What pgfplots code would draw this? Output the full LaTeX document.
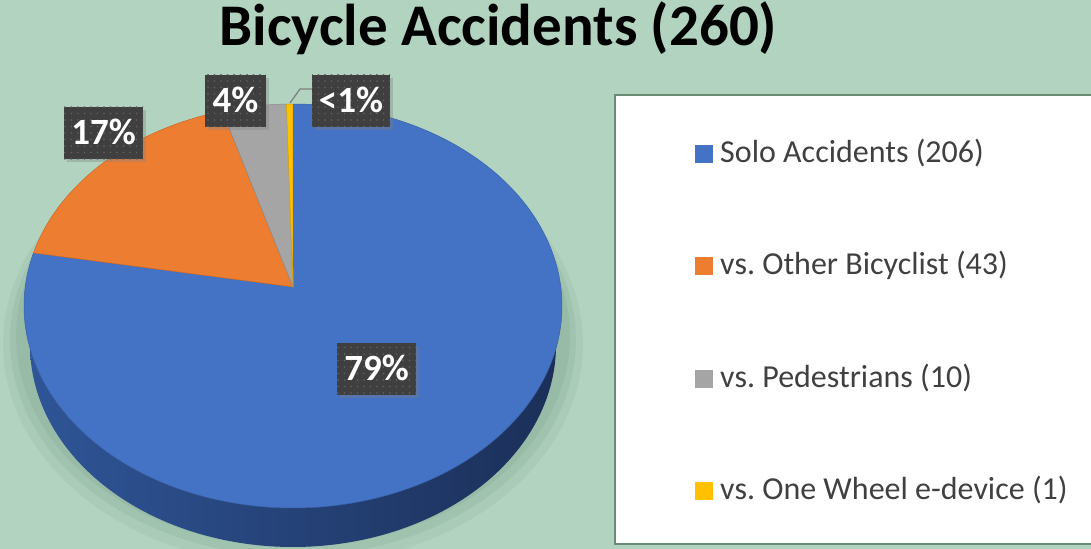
\documentclass[border=0pt]{standalone}
\usepackage{pgfplots}
\pgfplotsset{compat=1.18}
\usepackage{pgfplotstable}
\usepackage{fontspec}
\setmainfont{Carlito}
\frenchspacing
\usetikzlibrary{shadows,patterns.meta}

\definecolor{bg}{HTML}{B1D3C0}
\definecolor{shadowc}{HTML}{4F7560}
\definecolor{cblue}{HTML}{4472C4}
\definecolor{corange}{HTML}{ED7D31}
\definecolor{cgray}{HTML}{A5A5A5}
\definecolor{cyellow}{HTML}{FFC000}
\definecolor{sideL}{HTML}{2F5597}
\definecolor{sideM}{HTML}{213C72}
\definecolor{sideR}{HTML}{1B2F58}
\definecolor{labelbg}{HTML}{3F3F3F}
\definecolor{dotc}{HTML}{626262}
\definecolor{legborder}{HTML}{6A8C75}
\definecolor{legtext}{HTML}{404040}
\definecolor{leader}{HTML}{808080}

\pgfplotstableread[col sep=comma]{
category,value
Solo Accidents,206
vs. Other Bicyclist,43
vs. Pedestrians,10
vs. One Wheel e-device,1
}\piedata

\pgfplotstablegetelem{0}{value}\of\piedata\edef\vA{\pgfplotsretval}
\pgfplotstablegetelem{1}{value}\of\piedata\edef\vB{\pgfplotsretval}
\pgfplotstablegetelem{2}{value}\of\piedata\edef\vC{\pgfplotsretval}
\pgfplotstablegetelem{3}{value}\of\piedata\edef\vD{\pgfplotsretval}
\pgfmathsetmacro\total{\vA+\vB+\vC+\vD}
\pgfmathsetmacro\aA{90-360*(\vA/\total)}
\pgfmathsetmacro\aB{\aA-360*(\vB/\total)}
\pgfmathsetmacro\aC{\aB-360*(\vC/\total)}
\pgfmathsetmacro\aD{\aC-360*(\vD/\total)}

% pie geometry (pixel units)
\def\cx{293}\def\cy{306}\def\rx{269}\def\ry{202}
\def\vx{293}\def\vy{287}

\tikzset{plabel/.style={fill=labelbg, preaction={drop shadow={shadow xshift=3bp, shadow yshift=-3bp, opacity=0.35}},
  postaction={pattern={Dots[radius=0.8bp, distance=6.5bp]}, pattern color=dotc},
  text=white, font=\fontsize{37bp}{42bp}\selectfont\bfseries,
  inner xsep=0pt, inner ysep=0pt, text height=23.5bp, text depth=0bp, minimum height=52bp}}

\begin{document}
\begin{tikzpicture}
\begin{axis}[
  scale only axis, width=1091bp, height=549bp,
  xmin=0, xmax=1091, ymin=0, ymax=549, y dir=reverse,
  hide axis, clip=true,
  legend image code/.code={\fill[#1, draw=none] (0bp,-9bp) rectangle (18bp,9bp);},
  legend cell align=left,
  legend style={at={(axis cs:695,322.5)}, anchor=west, draw=none, fill=none,
    inner sep=0pt, column sep=7bp, row sep=81.3bp,
    font=\fontsize{32bp}{37bp}\selectfont, text=legtext,
    nodes={inner sep=0pt, text height=24bp, text depth=7bp}},
]
% background
\addplot[forget plot, fill=bg, draw=none] coordinates {(0,0) (1091,0) (1091,549) (0,549)} -- cycle;
% soft shadow
\addplot[forget plot, fill=shadowc, draw=none, opacity=0.08, domain=0:360, samples=120, variable=\t] ({\cx+290*cos(\t)}, {344-222*sin(\t)}) -- cycle;
\addplot[forget plot, fill=shadowc, draw=none, opacity=0.09, domain=0:360, samples=120, variable=\t] ({\cx+283*cos(\t)}, {340-216*sin(\t)}) -- cycle;
\addplot[forget plot, fill=shadowc, draw=none, opacity=0.10, domain=0:360, samples=120, variable=\t] ({\cx+277*cos(\t)}, {336-211*sin(\t)}) -- cycle;
% legend box
\addplot[forget plot, fill=white, draw=legborder, line width=2bp] coordinates {(615,95) (1100,95) (1100,544) (615,544)} -- cycle;
% side of the pie
\addplot[forget plot, draw=none, left color=sideL, middle color=sideM, right color=sideR, domain=180:360, samples=150, variable=\t]
  ({\cx+263*cos(\t)}, {345-202*sin(\t)}) -- (axis cs:556,306) -- (axis cs:30,306) -- cycle;
% slices
\addplot[fill=cblue, draw=cblue!85!black, line width=0.5bp, domain=\aA:90, samples=200, variable=\t]
  ({\cx+\rx*cos(\t)}, {\cy-\ry*sin(\t)}) -- (axis cs:\vx,\vy) -- cycle;
\addlegendentry{Solo Accidents (206)}
\addplot[fill=corange, draw=corange!85!black, line width=0.5bp, domain=\aB:\aA, samples=60, variable=\t]
  ({\cx+\rx*cos(\t)}, {\cy-\ry*sin(\t)}) -- (axis cs:\vx,\vy) -- cycle;
\addlegendentry{vs. Other Bicyclist (43)}
\addplot[fill=cgray, draw=cgray!85!black, line width=0.5bp, domain=\aC:\aB, samples=20, variable=\t]
  ({\cx+\rx*cos(\t)}, {\cy-\ry*sin(\t)}) -- (axis cs:\vx,\vy) -- cycle;
\addlegendentry{vs. Pedestrians (10)}
\addplot[fill=cyellow, draw=cyellow!85!black, line width=0.5bp, domain=\aD:\aC, samples=5, variable=\t]
  ({\cx+\rx*cos(\t)}, {\cy-\ry*sin(\t)}) -- (axis cs:\vx,\vy) -- cycle;
\addlegendentry{vs. One Wheel e-device (1)}
% leader line for <1%
\addplot[forget plot, draw=leader, line width=1.3bp] coordinates {(312,89) (300,89) (290,103)};
% title
\node[anchor=base, font=\fontsize{59bp}{67bp}\selectfont\bfseries, text=black, inner sep=0pt] at (axis cs:498.5,46) {Bicycle Accidents (260)};
% data labels
\node[plabel, minimum width=79bp] at (axis cs:103.5,133) {17\%};
\node[plabel, minimum width=61bp] at (axis cs:235.5,101) {4\%};
\node[plabel, minimum width=78bp] at (axis cs:351,101) {<1\%};
\node[plabel, minimum width=79bp] at (axis cs:376.5,368.5) {79\%};
\end{axis}
\pgfresetboundingbox
\path (current axis.south west) rectangle (current axis.north east);
\end{tikzpicture}
\end{document}
